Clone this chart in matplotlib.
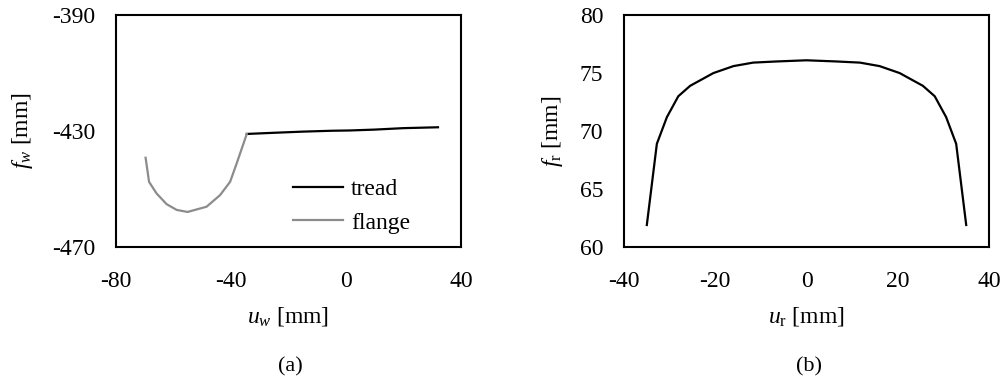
import matplotlib
matplotlib.use('Agg')
import matplotlib.pyplot as plt

plt.rcParams['font.family'] = ['Liberation Serif', 'DejaVu Serif']
plt.rcParams['mathtext.fontset'] = 'custom'
plt.rcParams['mathtext.rm'] = 'Liberation Serif'
plt.rcParams['mathtext.it'] = 'Liberation Serif:italic'
plt.rcParams['axes.unicode_minus'] = False

# (a) wheel profile
tread_u = [-34.5, -25, -15, -5, 1.4, 10, 20, 32]
tread_f = [-431.0, -430.6, -430.2, -429.9, -429.8, -429.5, -429.0, -428.7]
flange_u = [-69.7, -68.5, -65.9, -62.4, -58.9, -55.1, -48.5, -43.8, -40.3, -38.0, -34.5]
flange_f = [-439.2, -447.5, -451.5, -455.2, -457.2, -457.9, -456.1, -452.1, -447.5, -441.1, -431.0]

# (b) rail profile
rail_u = [-35, -32.8, -30.6, -28.1, -25.5, -20.4, -16, -11.7, -6.5, 0, 6.5, 11.7, 16, 20.4, 25.5, 28.1, 30.6, 32.8, 35]
rail_f = [61.9, 68.9, 71.2, 73.0, 73.9, 75.0, 75.6, 75.9, 76.0, 76.1, 76.0, 75.9, 75.6, 75.0, 73.9, 73.0, 71.2, 68.9, 61.9]

fs = 17
fig = plt.figure(figsize=(10.05, 3.83), dpi=100)
ax1 = fig.add_axes([0.1154, 0.355, 0.3433, 0.6057])
ax2 = fig.add_axes([0.6209, 0.355, 0.3632, 0.6057])

ax1.plot(tread_u, tread_f, color='black', lw=1.6, label='tread')
ax1.plot(flange_u, flange_f, color='#8c8c8c', lw=1.6, label='flange')
ax1.set_xlim(-80, 40)
ax1.set_ylim(-470, -390)
ax1.set_xticks([-80, -40, 0, 40])
ax1.set_yticks([-470, -430, -390])
ax1.set_xlabel(r'$u_w$ [mm]', fontsize=fs, va='center')
ax1.set_ylabel(r'$f_w$ [mm]', fontsize=fs, va='center')
ax1.xaxis.set_label_coords(0.5, -0.30)
ax1.yaxis.set_label_coords(-0.27, 0.5)
ax1.legend(loc='upper left', bbox_to_anchor=(0.513, 0.294), frameon=False,
           fontsize=fs, handlelength=2.12, handletextpad=0.34,
           borderaxespad=0, borderpad=0, labelspacing=0.5)

ax2.plot(rail_u, rail_f, color='black', lw=1.6)
ax2.set_xlim(-40, 40)
ax2.set_ylim(60, 80)
ax2.set_xticks([-40, -20, 0, 20, 40])
ax2.set_yticks([60, 65, 70, 75, 80])
ax2.set_xlabel(r'$u_{\mathrm{r}}$ [mm]', fontsize=fs, va='center')
ax2.set_ylabel(r'$f_{\mathrm{r}}$ [mm]', fontsize=fs, va='center')
ax2.xaxis.set_label_coords(0.5, -0.30)
ax2.yaxis.set_label_coords(-0.197, 0.5)

for ax in (ax1, ax2):
    ax.tick_params(length=0, labelsize=fs)
    ax.tick_params(axis='x', pad=17)
    ax.tick_params(axis='y', pad=15)
    for s in ax.spines.values():
        s.set_linewidth(1.5)

fig.text(0.2887, 1 - 367 / 383, '(a)', ha='center', va='center', fontsize=fs - 1)
fig.text(0.805, 1 - 367 / 383, '(b)', ha='center', va='center', fontsize=fs - 1)

fig.savefig('out.png', dpi=100)
